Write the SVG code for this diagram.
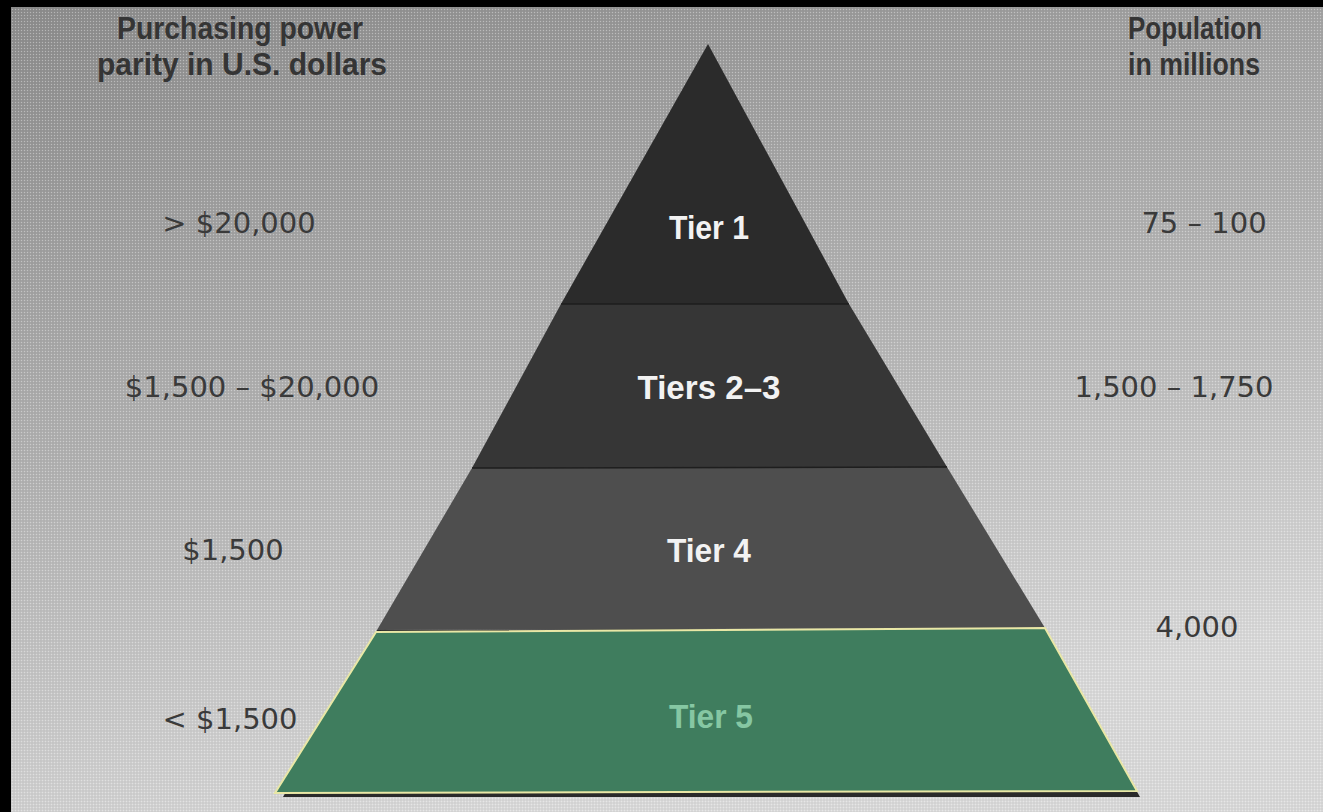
<svg xmlns="http://www.w3.org/2000/svg" width="1323" height="812" viewBox="0 0 1323 812">
  <defs>
    <linearGradient id="bg" x1="0" y1="0" x2="0.35" y2="1">
      <stop offset="0" stop-color="#8c8c8c"/>
      <stop offset="0.5" stop-color="#b0b0b0"/>
      <stop offset="1" stop-color="#d9d9d9"/>
    </linearGradient>
    <pattern id="dots" width="3" height="3" patternUnits="userSpaceOnUse">
      <rect x="0" y="0" width="1" height="1" fill="#ffffff" opacity="0.35"/>
      <rect x="1.5" y="1.5" width="1" height="1" fill="#000000" opacity="0.12"/>
    </pattern>
    <style>
      .hdr { font-family: "Liberation Sans Narrow", "Liberation Sans", sans-serif; font-weight: bold; font-size: 32px; fill: #353535; text-anchor: middle; }
      .val { font-family: "DejaVu Sans", "Liberation Sans", sans-serif; font-size: 29px; fill: #3a3a3a; text-anchor: middle; }
      .tier { font-family: "Liberation Sans Narrow", "Liberation Sans", sans-serif; font-weight: bold; font-size: 33px; fill: #f2f2f2; text-anchor: middle; }
      .sep { stroke: #1e1e1e; stroke-width: 1.5; }
    </style>
  </defs>

  <!-- background -->
  <rect x="0" y="0" width="1323" height="812" fill="url(#bg)"/>
  <rect x="0" y="0" width="1323" height="812" fill="url(#dots)"/>
  <rect x="0" y="0" width="1323" height="7" fill="#000"/>
  <rect x="0" y="0" width="11" height="812" fill="#000"/>

  <!-- headers -->
  <g id="header-left">
    <text class="hdr" x="240" y="39" textLength="246" lengthAdjust="spacingAndGlyphs">Purchasing power</text>
    <text class="hdr" x="242" y="75" textLength="290" lengthAdjust="spacingAndGlyphs">parity in U.S. dollars</text>
  </g>
  <g id="header-right">
    <text class="hdr" x="1195" y="39" textLength="134" lengthAdjust="spacingAndGlyphs">Population</text>
    <text class="hdr" x="1194" y="75" textLength="132" lengthAdjust="spacingAndGlyphs">in millions</text>
  </g>

  <!-- pyramid tiers -->
  <g id="tier1">
    <polygon points="708,44 561,304 849,304" fill="#2b2b2b"/>
    <text class="tier" x="709" y="239" textLength="80" lengthAdjust="spacingAndGlyphs">Tier 1</text>
  </g>
  <g id="tiers2-3">
    <polygon points="561,304 849,304 947,467 472,468" fill="#363636"/>
    <text class="tier" x="709" y="399" textLength="143" lengthAdjust="spacingAndGlyphs">Tiers 2–3</text>
  </g>
  <g id="tier4">
    <polygon points="472,468 947,467 1045,628 377,630" fill="#4e4e4e"/>
    <text class="tier" x="709" y="562" textLength="84" lengthAdjust="spacingAndGlyphs">Tier 4</text>
  </g>
  <g id="tier5">
    <polygon points="377,630 1045,628 1140,797 283,797" fill="#2a2a2a"/>
    <polygon points="376,632 1045,628 1137,791 275,793" fill="#3f7d5e" stroke="#e9e7a6" stroke-width="2" stroke-linejoin="miter"/>
    <text class="tier" x="711" y="728" textLength="84" lengthAdjust="spacingAndGlyphs" style="fill:#86c7a3">Tier 5</text>
  </g>

  <g id="connectors">
    <line class="sep" x1="561" y1="304" x2="849" y2="304"/>
    <line class="sep" x1="472" y1="468" x2="947" y2="467"/>
  </g>

  <!-- left values -->
  <g id="ppp-values">
    <text class="val" x="239" y="233">&gt; $20,000</text>
    <text class="val" x="252" y="397">$1,500 – $20,000</text>
    <text class="val" x="233" y="560">$1,500</text>
    <text class="val" x="230" y="729">&lt; $1,500</text>
  </g>

  <!-- right values -->
  <g id="population-values">
    <text class="val" x="1204" y="233">75 – 100</text>
    <text class="val" x="1174" y="397">1,500 – 1,750</text>
    <text class="val" x="1197" y="637">4,000</text>
  </g>
</svg>
